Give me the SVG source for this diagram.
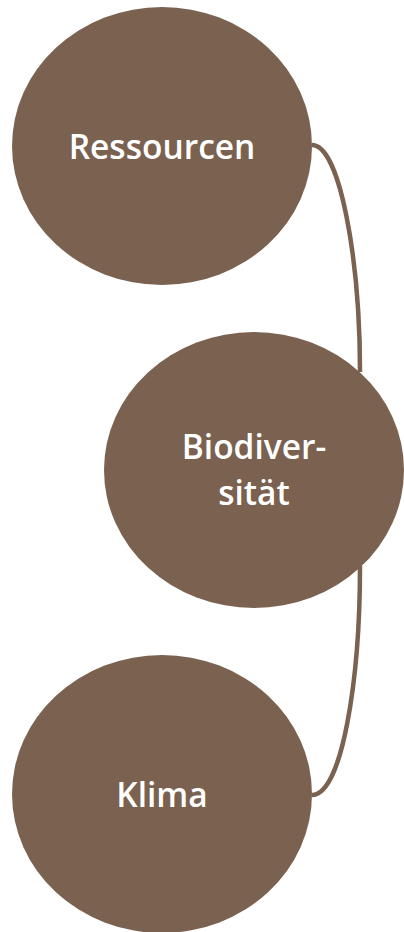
<svg xmlns="http://www.w3.org/2000/svg" width="404" height="932" viewBox="0 0 404 932">
<style>
.n{fill:#7a6150}
.t{fill:#ffffff;font-family:"Open Sans","Noto Sans","Liberation Sans",sans-serif;font-weight:600;font-size:33.5px;text-anchor:middle}
.c{fill:none;stroke:#7a6150;stroke-width:4.5}
</style>
<rect width="404" height="932" fill="#ffffff"/>
<g id="connectors">
<path class="c" d="M312,145 C340,145 360,260 360,372"/>
<path class="c" d="M360,566 C360,680 342,795 312,795"/>
</g>
<g id="node-ressourcen">
<ellipse class="n" cx="162" cy="146" rx="150" ry="139"/>
<text class="t" x="162" y="159">Ressourcen</text>
</g>
<g id="node-biodiversitaet">
<ellipse class="n" cx="254" cy="470" rx="150" ry="138"/>
<text class="t" x="254" y="459">Biodiver-</text>
<text class="t" x="254" y="505">sität</text>
</g>
<g id="node-klima">
<ellipse class="n" cx="162" cy="794" rx="150" ry="139"/>
<text class="t" x="162" y="807">Klima</text>
</g>
</svg>
